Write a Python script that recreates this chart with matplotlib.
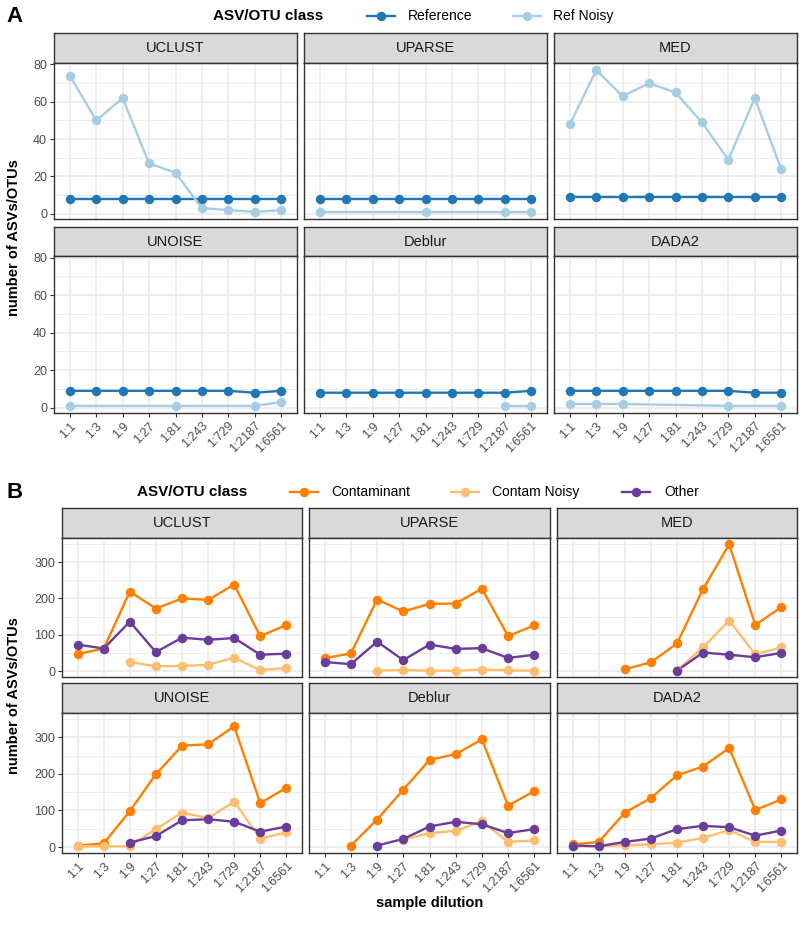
import matplotlib
matplotlib.use('Agg')
import numpy as np
import matplotlib.pyplot as plt
from matplotlib.lines import Line2D
from matplotlib.patches import Rectangle

plt.rcParams['font.family'] = ['Liberation Sans', 'DejaVu Sans']

nan = np.nan
dilutions = ['1:1', '1:3', '1:9', '1:27', '1:81', '1:243', '1:729', '1:2187', '1:6561']
methods = ['UCLUST', 'UPARSE', 'MED', 'UNOISE', 'Deblur', 'DADA2']

# Panel A
reference = {
    'UCLUST': [8, 8, 8, 8, 8, 8, 8, 8, 8],
    'UPARSE': [8, 8, 8, 8, 8, 8, 8, 8, 8],
    'MED':    [9, 9, 9, 9, 9, 9, 9, 9, 9],
    'UNOISE': [9, 9, 9, 9, 9, 9, 9, 8, 9],
    'Deblur': [8, 8, 8, 8, 8, 8, 8, 8, 9],
    'DADA2':  [9, 9, 9, 9, 9, 9, 9, 8, 8],
}
ref_noisy = {
    'UCLUST': [74, 50, 62, 27, 22, 3, 2, 1, 2],
    'UPARSE': [1, nan, nan, nan, 1, nan, nan, 1, 1],
    'MED':    [48, 77, 63, 70, 65, 49, 29, 62, 24],
    'UNOISE': [1, nan, nan, nan, 1, nan, nan, 1, 3],
    'Deblur': [nan, nan, nan, nan, nan, nan, nan, 1, 1],
    'DADA2':  [2, 2, 2, nan, nan, nan, 1, nan, 1],
}

# Panel B
contaminant = {
    'UCLUST': [47, 62, 219, 172, 200, 196, 238, 96, 127],
    'UPARSE': [35, 49, 197, 164, 185, 186, 227, 96, 126],
    'MED':    [nan, nan, 5, 24, 76, 226, 349, 127, 176],
    'UNOISE': [4, 10, 98, 199, 277, 281, 330, 120, 162],
    'Deblur': [nan, 4, 75, 157, 238, 254, 294, 113, 153],
    'DADA2':  [7, 14, 94, 134, 196, 220, 271, 101, 130],
}
contam_noisy = {
    'UCLUST': [nan, nan, 25, 13, 14, 17, 37, 2, 9],
    'UPARSE': [nan, nan, 1, 3, 1, 1, 4, 2, 1],
    'MED':    [nan, nan, nan, nan, 2, 65, 139, 46, 65],
    'UNOISE': [2, 2, 2, 49, 94, 79, 124, 23, 40],
    'Deblur': [nan, nan, nan, 20, 38, 44, 71, 14, 18],
    'DADA2':  [2, 2, 5, 7, 12, 25, 46, 14, 14],
}
other = {
    'UCLUST': [73, 62, 136, 52, 92, 86, 91, 45, 48],
    'UPARSE': [25, 19, 81, 30, 73, 61, 63, 36, 45],
    'MED':    [nan, nan, nan, nan, 1, 51, 45, 38, 50],
    'UNOISE': [nan, nan, 12, 30, 73, 76, 69, 42, 56],
    'Deblur': [nan, nan, 4, 22, 56, 69, 62, 38, 49],
    'DADA2':  [4, 2, 14, 23, 49, 58, 54, 31, 45],
}

seriesA = [('Reference', reference, '#1f78b4'), ('Ref Noisy', ref_noisy, '#a6cee3')]
seriesB = [('Contaminant', contaminant, '#ff7f00'), ('Contam Noisy', contam_noisy, '#fdbf6f'),
           ('Other', other, '#6a3d9a')]

W, H = 800, 931
fig = plt.figure(figsize=(W / 100, H / 100), dpi=100)


def box(x0, y0, x1, y1):
    return [x0 / W, 1 - y1 / H, (x1 - x0) / W, (y1 - y0) / H]


def fx(x):
    return x / W


def fy(y):
    return 1 - y / H


GRID = '#EBEBEB'
DARK = '#333333'
TICKC = '#4D4D4D'


def ylims(series):
    vals = np.concatenate([np.array(d[m], float) for _, d, _ in series for m in methods])
    vals = vals[~np.isnan(vals)]
    lo, hi = vals.min(), vals.max()
    r = hi - lo
    return lo - 0.05 * r, hi + 0.05 * r


def draw_panel(cols, rows, series, yticks, yminor, ylim):
    for i, m in enumerate(methods):
        r, c = divmod(i, 3)
        x0, x1 = cols[c]
        sy0, sy1, py1 = rows[r]
        # strip
        sax = fig.add_axes(box(x0, sy0, x1, sy1))
        sax.set_xlim(0, 1)
        sax.set_ylim(0, 1)
        sax.set_xticks([])
        sax.set_yticks([])
        sax.set_facecolor('#D9D9D9')
        for sp in sax.spines.values():
            sp.set_color(DARK)
            sp.set_linewidth(1.0)
        sax.text(0.5, 0.5, m, ha='center', va='center', fontsize=10.5, color='#1A1A1A')
        # panel
        ax = fig.add_axes(box(x0, sy1, x1, py1))
        ax.set_xlim(-0.6, len(dilutions) - 0.4)
        ax.set_ylim(*ylim)
        for yv in yminor:
            ax.axhline(yv, color=GRID, lw=0.6, zorder=0)
        for yv in yticks:
            ax.axhline(yv, color=GRID, lw=1.2, zorder=0)
        for xv in range(len(dilutions)):
            ax.axvline(xv, color=GRID, lw=1.2, zorder=0)
        xs = np.arange(len(dilutions))
        for k, (name, d, col) in enumerate(series):
            v = np.array(d[m], float)
            ok = ~np.isnan(v)
            ax.plot(xs[ok], v[ok], color=col, lw=1.7, zorder=2 + k * 0.01,
                    solid_capstyle='butt')
        for k, (name, d, col) in enumerate(series):
            v = np.array(d[m], float)
            ok = ~np.isnan(v)
            ax.plot(xs[ok], v[ok], 'o', color=col, ms=6.8, mec='none', zorder=3 + k * 0.01)
        for sp in ax.spines.values():
            sp.set_color(DARK)
            sp.set_linewidth(1.0)
            sp.set_zorder(5)
        ax.set_yticks(yticks)
        ax.set_xticks(xs)
        ax.tick_params(axis='both', length=3, width=0.8, color=DARK, labelcolor=TICKC,
                       labelsize=9, pad=2)
        if c == 0:
            ax.set_yticklabels([str(t) for t in yticks])
        else:
            ax.set_yticklabels([])
            ax.tick_params(axis='y', length=0)
        if r == 1:
            ax.set_xticklabels(dilutions, rotation=45, ha='right', va='top',
                               rotation_mode='anchor')
        else:
            ax.set_xticklabels([])
            ax.tick_params(axis='x', length=0)


# ---- Panel A ----
colsA = [(54, 297), (304, 547), (554, 797)]
rowsA = [(33, 63, 219), (227, 256, 413)]
draw_panel(colsA, rowsA, seriesA, [0, 20, 40, 60, 80], [10, 30, 50, 70], ylims(seriesA))

# ---- Panel B ----
colsB = [(62, 302), (309, 550), (557, 797)]
rowsB = [(508, 538, 677), (683, 713, 853)]
draw_panel(colsB, rowsB, seriesB, [0, 100, 200, 300], [50, 150, 250, 350], ylims(seriesB))

# panel letters
fig.text(fx(6), fy(16), 'A', fontsize=16, fontweight='bold', ha='left', va='center')
fig.text(fx(6), fy(492), 'B', fontsize=16, fontweight='bold', ha='left', va='center')

# axis titles
fig.text(fx(14), fy((63 + 413) / 2), 'number of ASVs/OTUs', rotation=90, fontsize=10.5,
         fontweight='bold', ha='center', va='center')
fig.text(fx(14), fy((538 + 853) / 2), 'number of ASVs/OTUs', rotation=90, fontsize=10.5,
         fontweight='bold', ha='center', va='center')
fig.text(fx((62 + 797) / 2), fy(903), 'sample dilution', fontsize=10.5,
         fontweight='bold', ha='center', va='center')


def legend(y, title_x, items):
    fig.text(fx(title_x), fy(y), 'ASV/OTU class', fontsize=11, fontweight='bold',
             ha='left', va='center')
    for name, col, ix0, tx in items:
        fig.add_artist(Line2D([fx(ix0), fx(ix0 + 28)], [fy(y), fy(y)], color=col, lw=1.7,
                              transform=fig.transFigure))
        fig.add_artist(Line2D([fx(ix0 + 14)], [fy(y)], marker='o', color=col, ms=6.8,
                              mec='none', transform=fig.transFigure))
        fig.text(fx(tx), fy(y), name, fontsize=10, ha='left', va='center')


legend(16, 213, [('Reference', '#1f78b4', 367, 408), ('Ref Noisy', '#a6cee3', 513, 553)])
legend(492, 137, [('Contaminant', '#ff7f00', 290, 331), ('Contam Noisy', '#fdbf6f', 451, 492),
                  ('Other', '#6a3d9a', 622, 664)])

fig.savefig('out.png', dpi=100, facecolor='white')
